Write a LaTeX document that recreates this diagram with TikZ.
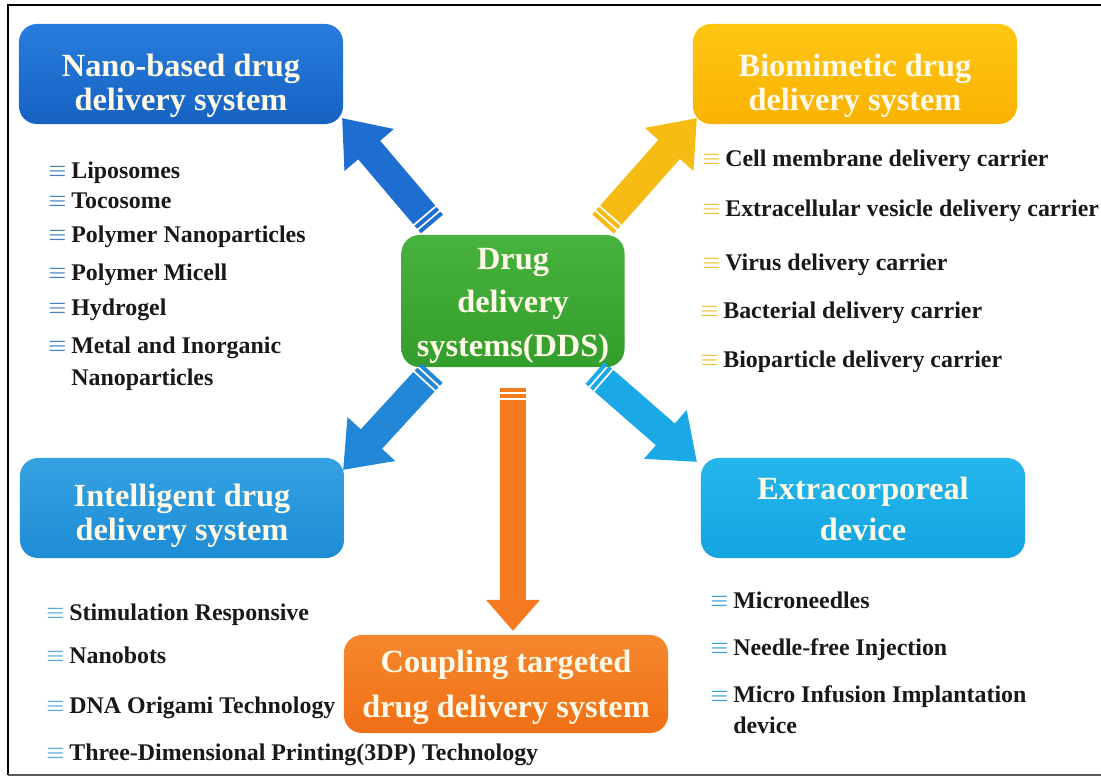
\documentclass[tikz,border=0pt]{standalone}
\usepackage{fontspec}
\setmainfont{Liberation Serif}
\usetikzlibrary{arrows.meta,calc}

% box fills
\definecolor{nanotop}{RGB}{40,125,220}
\definecolor{nanobot}{RGB}{22,98,195}
\definecolor{biotop}{RGB}{255,198,20}
\definecolor{biobot}{RGB}{250,178,0}
\definecolor{ddstop}{RGB}{72,178,62}
\definecolor{ddsbot}{RGB}{52,158,44}
\definecolor{inteltop}{RGB}{52,162,226}
\definecolor{intelbot}{RGB}{30,140,212}
\definecolor{extratop}{RGB}{36,182,236}
\definecolor{extrabot}{RGB}{20,165,225}
\definecolor{couptop}{RGB}{246,135,45}
\definecolor{coupbot}{RGB}{240,112,22}
\definecolor{titletext}{RGB}{255,250,232}
% arrows and bullets
\definecolor{nanoarrow}{RGB}{30,110,210}
\definecolor{bioarrow}{RGB}{246,188,20}
\definecolor{intelarrow}{RGB}{33,135,214}
\definecolor{extraarrow}{RGB}{26,168,230}
\definecolor{couparrow}{RGB}{245,122,32}
\definecolor{nanobul}{RGB}{70,130,195}
\definecolor{biobul}{RGB}{240,195,60}
\definecolor{intelbul}{RGB}{90,170,220}
\definecolor{extrabul}{RGB}{60,160,215}

\tikzset{
  sysbox/.style={rounded corners=0.45cm, minimum width=8.1cm, minimum height=2.5cm,
    align=center, text=titletext, inner sep=0pt, text depth=0.2cm,
    font=\bfseries\fontsize{23}{24}\selectfont},
  item/.style={anchor=base west, align=left, inner sep=0pt, text=black!90,
    font=\bfseries\fontsize{17}{22.5}\selectfont},
  bigarrow/.style={line width=0.72cm, -{Triangle[width=1.55cm,length=1.05cm]}},
  tailband/.style={line width=0.72cm},
}

% list bullet
\newcommand{\lbul}[1]{{\color{#1}\fontsize{15}{15}\selectfont\boldmath\raisebox{1pt}{$\equiv$}}\hspace{3.5pt}}
% block arrow with a striped tail
\newcommand{\ddsarrow}[4][]{%
  \draw[bigarrow, #2, #1] ($(#3)!0.3cm!(#4)$) -- (#4);
  \draw[tailband, #2, #1, arrows=-] (#3) -- ($(#3)!0.1cm!(#4)$);
  \draw[tailband, #2, #1, arrows=-] ($(#3)!0.15cm!(#4)$) -- ($(#3)!0.25cm!(#4)$);
}

\begin{document}
\begin{tikzpicture}[x=0.025cm, y=-0.025cm]
    \useasboundingbox (0,0) rectangle (1101,776);

    % frame, open on the right
    \draw[line width=2pt] (1115,5) -- (8,5) -- (8,775);
    \draw[line width=1.5pt, black!65] (8,775) -- (1115,775);

    % centre and the six systems
    \node[sysbox, minimum width=5.575cm, minimum height=3.3cm, top color=ddstop, bottom color=ddsbot,
          text height=2.95cm] (dds) at (513,301)
          {Drug\\[6.6pt]delivery\\[6.6pt]systems(DDS)};
    \node[sysbox, top color=nanotop, bottom color=nanobot, text height=2.0cm]
          (nano) at (181,74) {Nano-based drug\\delivery system};
    \node[sysbox, top color=biotop, bottom color=biobot, text height=2.0cm]
          (bio) at (855,74) {Biomimetic drug\\delivery system};
    \node[sysbox, top color=inteltop, bottom color=intelbot, text height=1.8cm]
          (intel) at (182,508) {Intelligent drug\\delivery system};
    \node[sysbox, top color=extratop, bottom color=extrabot, text height=1.8cm]
          (extra) at (863,508) {Extracorporeal\\[4.5pt]device};
    \node[sysbox, minimum height=2.45cm, top color=couptop, bottom color=coupbot, text height=1.85cm]
          (coup) at (506,684) {Coupling targeted\\[7.3pt]drug delivery system};

    % arrows out of the centre
    \coordinate (nanotail) at (432,224);   \coordinate (nanotip) at (342,118);
    \coordinate (biotail) at (603,224);    \coordinate (biotip) at (697,118);
    \coordinate (inteltail) at (432,373);  \coordinate (inteltip) at (343,470);
    \coordinate (extratail) at (595,373);  \coordinate (extratip) at (697,462);
    \coordinate (couptail) at (513,388);   \coordinate (couptip) at (513,631);
    \ddsarrow{nanoarrow}{nanotail}{nanotip}
    \ddsarrow{bioarrow}{biotail}{biotip}
    \ddsarrow{intelarrow}{inteltail}{inteltip}
    \ddsarrow{extraarrow}{extratail}{extratip}
    \ddsarrow[line width=0.63cm, -{Triangle[width=1.3cm,length=0.78cm]}]{couparrow}{couptail}{couptip}

    % nano-based list
    \node[item] (nano1) at (48,178) {\lbul{nanobul}Liposomes};
    \node[item] (nano2) at (48,208) {\lbul{nanobul}Tocosome};
    \node[item] (nano3) at (48,242) {\lbul{nanobul}Polymer Nanoparticles};
    \node[item] (nano4) at (48,280) {\lbul{nanobul}Polymer Micell};
    \node[item] (nano5) at (48,315) {\lbul{nanobul}Hydrogel};
    \node[item] (nano6) at (48,385) {\lbul{nanobul}Metal and Inorganic\\\hphantom{\lbul{nanobul}}Nanoparticles};

    % biomimetic list
    \node[item] (bio1) at (702,166) {\lbul{biobul}Cell membrane delivery carrier};
    \node[item] (bio2) at (702,216) {\lbul{biobul}Extracellular vesicle delivery carrier};
    \node[item] (bio3) at (702,270) {\lbul{biobul}Virus delivery carrier};
    \node[item] (bio4) at (700,318) {\lbul{biobul}Bacterial delivery carrier};
    \node[item] (bio5) at (700,367) {\lbul{biobul}Bioparticle delivery carrier};

    % intelligent list
    \node[item] (intel1) at (46,620) {\lbul{intelbul}Stimulation Responsive};
    \node[item] (intel2) at (46,663) {\lbul{intelbul}Nanobots};
    \node[item] (intel3) at (46,713) {\lbul{intelbul}DNA Origami Technology};
    \node[item] (intel4) at (46,760) {\lbul{intelbul}Three-Dimensional Printing(3DP) Technology};

    % extracorporeal list
    \node[item] (extra1) at (710,608) {\lbul{extrabul}Microneedles};
    \node[item] (extra2) at (710,655) {\lbul{extrabul}Needle-free Injection};
    \node[item] (extra3) at (710,733) {\lbul{extrabul}Micro Infusion Implantation\\[-1pt]\hphantom{\lbul{extrabul}}device};
\end{tikzpicture}
\end{document}
